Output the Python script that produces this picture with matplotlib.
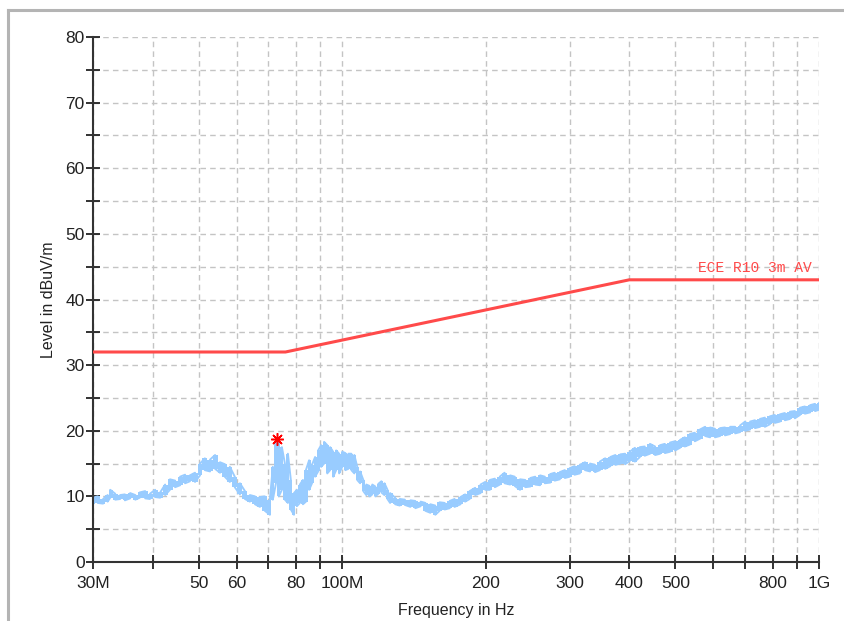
import matplotlib
matplotlib.use("Agg")
import matplotlib.pyplot as plt
from matplotlib.lines import Line2D
from matplotlib.ticker import FixedLocator, NullFormatter

# measured trace: frequency (MHz) with lower / upper edge of the noise band (dBuV/m)
freq_mhz = [30.0, 30.7, 31.5, 32.2, 32.6, 33.4, 34.2, 35.0, 35.9, 36.8, 37.6, 38.6, 39.5,
            40.5, 41.5, 42.5, 43.5, 44.6, 45.7, 46.8, 47.9, 49.1, 50.3, 51.5, 52.8, 54.1,
            55.4, 56.7, 58.1, 59.5, 61.0, 62.5, 64.0, 65.6, 67.2, 68.8, 70.5, 71.5, 72.6,
            73.6, 74.7, 75.8, 76.9, 78.0, 79.2, 80.3, 81.5, 82.7, 83.9, 85.2, 86.4, 87.7,
            89.0, 90.3, 91.6, 93.0, 94.3, 95.7, 97.1, 98.5, 100.0, 101.5, 103.0, 104.5,
            106.0, 107.5, 109.0, 110.7, 112.3, 114.0, 115.6, 117.3, 119.0, 120.8, 122.6,
            124.4, 126.0, 129.1, 132, 135.3, 139, 142.3, 146, 149.4, 153, 156.7, 160, 164,
            168, 172, 177, 181, 185, 190, 195, 199.5, 204, 209, 214, 219, 225, 230, 236,
            242, 248, 254, 260, 266, 273, 279, 286, 293, 300, 307, 315, 323, 331, 339, 347,
            356, 365, 374, 383, 392, 401, 411, 421, 431, 442, 453, 464, 475, 487, 499, 511,
            523, 536, 549, 563, 577, 591, 605, 620, 635, 651, 667, 683, 700, 717, 734, 752,
            770, 789, 808, 828, 848, 869, 890, 912, 934, 958, 981, 1000]
level_lo = [8.8, 9.0, 8.9, 9.2, 9.8, 9.5, 9.6, 9.4, 9.7, 9.5, 9.8, 9.7, 9.6,
            9.9, 9.8, 10.2, 11.0, 11.4, 11.7, 12.0, 12.3, 12.2, 13.2, 14.0, 13.8, 14.2,
            13.6, 13.0, 12.2, 11.4, 10.3, 9.6, 9.2, 8.8, 8.4, 7.8, 7.2, 9.5, 12.0,
            10.0, 11.0, 9.5, 9.0, 8.0, 7.2, 8.5, 9.0, 8.8, 9.2, 11.0, 12.0, 13.0,
            13.8, 14.5, 15.0, 13.5, 14.0, 13.0, 14.0, 13.5, 14.5, 14.0, 14.2, 14.0,
            13.5, 12.5, 12.0, 10.8, 10.2, 10.0, 10.3, 10.0, 10.4, 10.6, 10.2,
            9.6, 9.0, 8.8, 8.6, 8.7, 8.4, 8.2, 8.5, 7.8, 7.5, 7.2, 7.8, 8.0,
            8.2, 8.4, 8.8, 9.2, 9.6, 10.2, 10.5, 11.0, 11.0, 11.4, 11.8, 12.0, 11.8, 11.6, 11.0,
            11.4, 11.5, 11.8, 11.7, 12.0, 12.1, 12.4, 12.6, 12.8, 13.0, 13.3, 13.5, 14.0, 13.8, 13.7, 14.0,
            14.2, 14.6, 14.8, 15.0, 14.9, 15.4, 15.3, 16.0, 16.2, 16.5, 16.3, 16.5, 16.6, 16.8, 17.0, 17.4,
            17.6, 17.9, 18.4, 18.8, 19.2, 19.0, 19.0, 19.2, 19.3, 19.5, 19.6, 19.8, 20.0, 20.2, 20.4, 20.6,
            20.6, 21.0, 21.2, 21.4, 21.6, 21.8, 21.9, 22.4, 22.6, 22.8, 23.0, 23.2]
level_hi = [9.8, 10.0, 9.6, 10.2, 11.0, 10.4, 10.2, 10.3, 10.5, 10.2, 10.6, 10.8, 10.4,
            11.0, 10.6, 11.8, 12.6, 12.4, 13.0, 13.3, 13.2, 13.6, 15.0, 15.8, 15.6, 16.3,
            15.2, 14.9, 14.5, 13.0, 12.0, 10.8, 10.2, 10.0, 9.9, 10.0, 9.5, 14.5, 18.2,
            18.6, 17.5, 15.0, 16.5, 12.5, 10.5, 11.0, 11.8, 12.5, 14.0, 15.5, 14.8, 16.0,
            17.0, 17.8, 18.3, 17.8, 17.5, 16.8, 17.0, 16.5, 16.8, 16.6, 16.5, 16.5,
            16.3, 14.5, 13.8, 12.5, 11.8, 11.6, 11.8, 11.5, 11.9, 12.3, 12.0,
            11.0, 10.5, 9.8, 9.6, 9.5, 9.4, 9.3, 9.2, 9.0, 8.8, 8.6, 9.1, 9.0,
            9.3, 9.6, 9.9, 10.3, 10.8, 11.3, 11.8, 12.2, 12.5, 12.7, 13.0, 13.6, 13.2, 13.0, 12.6,
            12.5, 12.8, 13.0, 13.2, 13.0, 13.4, 13.6, 13.7, 14.0, 14.3, 14.6, 14.8, 15.2, 15.0, 14.8, 15.3,
            15.8, 16.0, 16.3, 16.4, 16.5, 16.8, 17.4, 17.5, 17.6, 18.0, 17.6, 17.8, 18.0, 18.2, 18.4, 18.6,
            19.0, 19.5, 19.7, 20.2, 20.6, 20.5, 20.3, 20.4, 20.5, 20.6, 20.6, 20.8, 21.4, 21.4, 21.6, 21.8,
            22.0, 22.2, 22.4, 22.5, 22.7, 22.9, 23.0, 23.5, 23.7, 23.9, 24.1, 24.2]

# ECE R10 3m AV limit
limit_freq = [30, 76, 400, 1000]
limit_level = [32, 32, 43, 43]

# peak marker
peak_freq = [73.0]
peak_level = [18.7]

xticks = [30, 40, 50, 60, 70, 80, 90, 100, 200, 300, 400, 500, 600, 700, 800, 900, 1000]
xtick_labels = {30: "30M", 50: "50", 60: "60", 80: "80", 100: "100M", 200: "200",
                300: "300", 400: "400", 500: "500", 800: "800", 1000: "1G"}

plt.rcParams['font.family'] = ['Liberation Sans', 'DejaVu Sans']

fig = plt.figure(figsize=(8.44, 6.21), dpi=100)
ax = fig.add_axes([93 / 844, 1 - 562 / 621, 726 / 844, 525 / 621])

trace_color = "#99ccff"
# band between lower and upper edge, plus jagged strokes for the noise
ax.fill_between(freq_mhz, level_lo, level_hi, step="mid", color=trace_color, lw=0, zorder=2)
tx, ty = [], []
for i, f in enumerate(freq_mhz):
    tx += [f, f]
    if i % 2 == 0:
        ty += [level_lo[i], level_hi[i]]
    else:
        ty += [level_hi[i], level_lo[i]]
ax.plot(tx, ty, color=trace_color, lw=1.4, zorder=2)

ax.plot(limit_freq, limit_level, color="#ff4a4a", lw=2.2, zorder=3)
ax.text(967, 43.7, "ECE R10 3m AV", color="#ff4a4a", fontsize=10.5,
        family="Liberation Mono", ha="right", va="bottom", zorder=4)

ax.plot(peak_freq, peak_level, linestyle="none", marker=(8, 2, 0), markersize=9,
        mec="red", mew=1.1, zorder=5)

ax.set_xscale("log")
ax.set_xlim(30, 1000)
ax.set_ylim(0, 80)

ax.xaxis.set_major_locator(FixedLocator(xticks))
ax.xaxis.set_minor_locator(FixedLocator([]))
ax.xaxis.set_minor_formatter(NullFormatter())
ax.set_xticklabels([xtick_labels.get(t, "") for t in xticks])
ax.set_yticks(range(0, 81, 10))
ax.set_yticks(range(5, 80, 10), minor=True)

ax.grid(True, which="both", color="#c4c4c4", linestyle=(0, (4, 3)), lw=1)
ax.set_axisbelow(True)

for side in ("top", "right"):
    ax.spines[side].set_visible(False)
for side in ("left", "bottom"):
    ax.spines[side].set_color("#333333")
    ax.spines[side].set_linewidth(1.5)

ax.tick_params(axis="both", which="both", direction="inout", length=10, width=1.3,
               color="#222222", labelsize=12.5, labelcolor="#222222")
ax.tick_params(axis="y", pad=1)
ax.tick_params(axis="x", pad=5)

ax.set_xlabel("Frequency in Hz", fontsize=11.5, color="#222222", labelpad=9)
ax.set_ylabel("Level in dBuV/m", fontsize=11.5, color="#222222", labelpad=7)

# window frame of the screenshot
fig.add_artist(Line2D([8 / 844, 1], [1 - 10 / 621, 1 - 10 / 621], color="#b4b4b4", lw=2.2))
fig.add_artist(Line2D([8 / 844, 8 / 844], [0, 1 - 10 / 621], color="#b4b4b4", lw=2.2))

fig.savefig("out.png", dpi=100)
